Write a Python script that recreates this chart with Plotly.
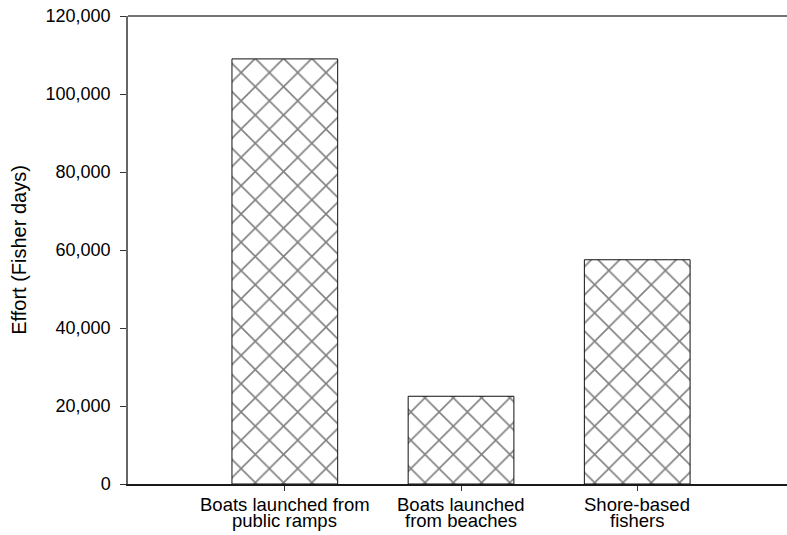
"""Fishing effort by access type - cross-hatched bar chart."""

import plotly.graph_objects as go

categories = ["ramps", "beaches", "shore"]
label_line1 = ["Boats launched from", "Boats launched", "Shore-based"]
label_line2 = ["public ramps", "from beaches", "fishers"]
effort = [109000, 22500, 57500]

y_ticks = [0, 20000, 40000, 60000, 80000, 100000, 120000]

FONT = "Liberation Sans, Arial, sans-serif"

fig = go.Figure(
    go.Bar(
        x=categories,
        y=effort,
        width=0.6,
        marker=dict(
            color="white",
            line=dict(color="#111111", width=1),
            pattern=dict(shape="x", size=20, solidity=0.15,
                         fgcolor="black", bgcolor="white", fillmode="overlay"),
        ),
        showlegend=False,
    )
)

fig.update_layout(
    width=787, height=535,
    margin=dict(l=128, r=0, t=16, b=51),
    paper_bgcolor="white", plot_bgcolor="white",
    font=dict(family=FONT, size=18, color="black"),
)

fig.update_xaxes(
    type="category",
    range=[-0.89, 2.85],
    showline=True, linecolor="#1a1a1a", linewidth=2,
    ticks="outside", ticklen=5, tickcolor="#333333", tickwidth=1,
    showticklabels=False,
    showgrid=False, zeroline=False,
)
fig.update_yaxes(
    range=[0, 120000],
    tickvals=y_ticks,
    tickformat=",d",
    showline=True, linecolor="#666666", linewidth=1.5,
    ticks="outside", ticklen=6, tickcolor="#333333", tickwidth=1,
    ticklabelstandoff=6,
    tickfont=dict(size=18),
    showgrid=False, zeroline=False,
    title=dict(text="Effort (Fisher days)", font=dict(size=20), standoff=14),
)

# category labels, two tightly spaced lines each
for cat, l1, l2 in zip(categories, label_line1, label_line2):
    fig.add_annotation(x=cat, xref="x", y=-0.044, yref="paper", text=l1,
                       showarrow=False, yanchor="middle", xanchor="center",
                       font=dict(size=18.5), borderpad=0)
    fig.add_annotation(x=cat, xref="x", y=-0.078, yref="paper", text=l2,
                       showarrow=False, yanchor="middle", xanchor="center",
                       font=dict(size=18.5), borderpad=0)

# top frame line
fig.add_shape(type="line", xref="paper", yref="paper", x0=0, x1=1, y0=1, y1=1,
              line=dict(color="#444444", width=1.5))

fig.write_html(
    "out.html",
    config={"displayModeBar": False},
    post_script="document.body.style.margin='0';",
)
